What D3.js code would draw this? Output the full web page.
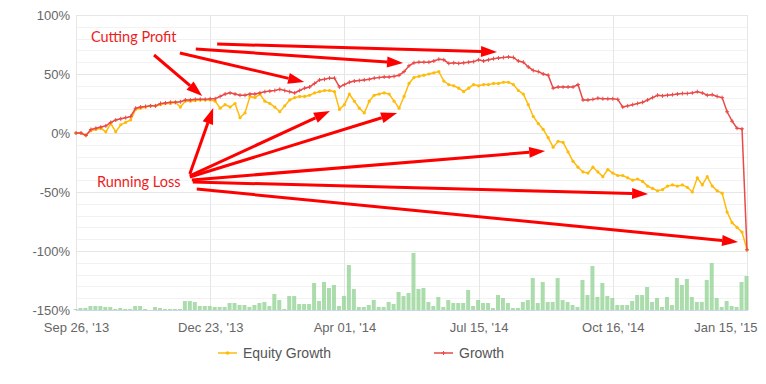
<!DOCTYPE html>
<html>
<head>
<meta charset="utf-8">
<script src="https://cdn.jsdelivr.net/npm/d3@7"></script>
<style>
  body { margin: 0; background: #fff; }
  text { font-family: Arial, "Liberation Sans", sans-serif; }
</style>
</head>
<body>
<div id="growth_plot"></div>
<script>
// tick labels for the x axis (index based)
var xTickIndex = [0, 27, 54, 81, 108, 135];
var xTickLabels = ["Sep 26, '13", "Dec 23, '13", "Apr 01, '14", "Jul 15, '14", "Oct 16, '14", "Jan 15, '15"];
var yTicks = [100, 50, 0, -50, -100, -150];

// Growth (%) - red
var growth = [0, 0, -2, 3, 4, 5, 6, 9, 11, 12, 13, 14, 21, 22, 22.5, 23, 23, 25, 25.5, 26,
  26, 26.5, 28, 28, 28.5, 28.5, 28.5, 29, 29, 31, 33, 34, 33, 32, 32, 33, 33, 34, 35, 35.5,
  36, 37, 36, 35, 34, 36, 38, 39, 42, 45, 45.5, 46.5, 46.5, 39, 41, 43, 44, 44.5, 45, 45.5,
  46.5, 47, 47.5, 47.5, 48, 49, 52, 57, 59.5, 60, 60, 60, 61, 62.5, 62, 59, 59.5, 59, 59.5, 60,
  60.5, 62, 61, 62, 63, 63.5, 64, 64.5, 64, 61, 60, 56, 53, 52, 50, 49, 38, 39, 39, 39,
  39, 41, 28, 28, 28.5, 29.5, 29, 29, 29, 28.5, 22, 23, 24, 25, 26, 28, 30, 32, 31.5, 32,
  32.5, 33, 33.5, 33.5, 34, 35, 34, 32, 32.5, 31, 30, 18, 10, 4, 3.5, -99];

// Equity Growth (%) - yellow
var equityGrowth = [0, 0, -2, 2, 3, 4, 1, 8, 1, 7, 9, 11, 20, 21, 22, 23, 23, 24, 25, 25,
  26, 22, 27, 27, 27.5, 28, 28, 28, 27, 21, 24, 22, 25, 13, 17, 31, 30, 33, 27, 25,
  22, 18, 23, 28, 30, 31, 31, 32, 34, 35, 36, 36, 35, 20, 24, 33, 27, 21, 17, 27,
  32, 33, 34, 33, 27, 21, 31, 42, 47, 48, 49, 50, 51, 52, 44, 41, 40, 38, 35, 38,
  41, 40, 41, 41, 42, 42, 43, 43, 41, 36, 33, 24, 14, 8, 3, -4, -12, -7, -8, -16,
  -24, -29, -33, -34, -29, -33, -37, -31, -34, -36, -36, -38, -40, -39, -41, -45, -47, -49, -48, -45,
  -44, -45, -44, -46, -50, -38, -44, -37, -45, -49, -51, -67, -76, -80, -84, -99];

// trading volume bars (lots)
var volume = [1, 2, 2, 4, 4, 4, 3, 3, 1, 2, 1, 1, 4, 4, 1, 0, 3, 2, 1, 1,
  1, 1, 9, 9, 8, 4, 4, 4, 3, 3, 3, 7, 7, 5, 5, 3, 5, 7, 8, 4,
  16, 10, 1, 14, 14, 6, 6, 6, 27, 9, 28, 22, 25, 4, 14, 45, 21, 3, 3, 5,
  10, 3, 3, 8, 6, 18, 14, 17, 57, 21, 22, 8, 4, 13, 3, 10, 7, 7, 7, 20,
  4, 10, 7, 7, 2, 15, 12, 7, 2, 2, 8, 10, 32, 7, 28, 8, 8, 32, 10, 8,
  5, 3, 30, 15, 44, 13, 27, 14, 12, 5, 5, 5, 9, 15, 15, 23, 8, 12, 3, 13,
  5, 32, 25, 31, 13, 8, 8, 30, 47, 12, 3, 9, 4, 3, 28, 34];

// annotations: [fromIndex, fromValue, toIndex, toValue]
var cuttingProfitArrows = [
  [15.7, 66.1, 25.4, 31.4],
  [20.9, 67.8, 45.9, 43.2],
  [24.1, 71.2, 65.8, 59.3],
  [28.4, 75.4, 84.7, 68.6]
];
var runningLossArrows = [
  [22.9, -34.7, 27.6, 21.2],
  [22.9, -36.4, 51.1, 18.6],
  [22.9, -37.3, 64.6, 16.9],
  [23.3, -39.8, 94.4, -15.3],
  [23.5, -41.5, 115.1, -51.7],
  [24.3, -47.5, 133.2, -92.4]
];

var margin = {top: 15, right: 18, bottom: 74, left: 76},
    width = 766 - margin.left - margin.right,
    height = 384 - margin.top - margin.bottom;

var svg = d3.select("#growth_plot")
  .append("svg")
    .attr("width", 766)
    .attr("height", 384);

var plot = svg.append("g")
    .attr("transform", "translate(" + margin.left + "," + margin.top + ")");

var x = d3.scaleLinear()
    .domain([0, growth.length - 1])
    .range([0, 671]);

var y = d3.scaleLinear()
    .domain([-150, 100])
    .range([height, 0]);

var yVol = d3.scaleLinear()
    .domain([0, 60])
    .range([height, height - 60]);

// minor grid every 10%
plot.append("g")
  .selectAll("line")
  .data(d3.range(-150, 101, 10).filter(function(d) { return d % 50 != 0; }))
  .enter()
  .append("line")
    .attr("x1", 0)
    .attr("x2", 672)
    .attr("y1", function(d) { return Math.round(y(d)) + 0.5; })
    .attr("y2", function(d) { return Math.round(y(d)) + 0.5; })
    .attr("stroke", "#f2f2f2");

// major grid
plot.append("g")
  .selectAll("line")
  .data(yTicks)
  .enter()
  .append("line")
    .attr("x1", 0)
    .attr("x2", 672)
    .attr("y1", function(d) { return Math.round(y(d)) + 0.5; })
    .attr("y2", function(d) { return Math.round(y(d)) + 0.5; })
    .attr("stroke", "#e6e6e6");

// vertical grid
plot.append("g")
  .selectAll("line")
  .data(xTickIndex)
  .enter()
  .append("line")
    .attr("x1", function(d) { return Math.round(x(d)) + 0.5; })
    .attr("x2", function(d) { return Math.round(x(d)) + 0.5; })
    .attr("y1", 0)
    .attr("y2", height)
    .attr("stroke", "#e6e6e6");

// y axis labels
var yAxis = plot.append("g")
    .call(d3.axisLeft(y).tickValues(yTicks).tickSize(0).tickPadding(6)
      .tickFormat(function(d) { return d + "%"; }));
yAxis.select(".domain").remove();
yAxis.selectAll("text")
    .style("font-size", "13px")
    .style("fill", "#666")
    .style("font-family", "Arial, 'Liberation Sans', sans-serif");

// x axis labels
var xAxis = plot.append("g")
    .attr("transform", "translate(0," + height + ")")
    .call(d3.axisBottom(x).tickValues(xTickIndex).tickSize(0).tickPadding(13)
      .tickFormat(function(d, i) { return xTickLabels[i]; }));
xAxis.select(".domain").remove();
xAxis.selectAll("text")
    .style("font-size", "13px")
    .style("fill", "#666")
    .style("font-family", "Arial, 'Liberation Sans', sans-serif");
// keep the last label inside the page, like the original
xAxis.selectAll("text")
    .filter(function(d, i) { return i == xTickIndex.length - 1; })
    .attr("text-anchor", "end")
    .attr("x", 10);

// volume bars
plot.append("g")
  .selectAll("rect")
  .data(volume)
  .enter()
  .append("rect")
    .attr("x", function(d, i) { return x(i) - 2.5; })
    .attr("width", 4)
    .attr("y", function(d) { return yVol(d); })
    .attr("height", function(d) { return height - yVol(d); })
    .attr("fill", "#8fd08f")
    .attr("opacity", 0.75);

// bottom axis line
plot.append("line")
    .attr("x1", 0).attr("x2", 672)
    .attr("y1", height + 0.5).attr("y2", height + 0.5)
    .attr("stroke", "#ccd6eb");

// equity growth line
var line = d3.line()
    .x(function(d, i) { return x(i); })
    .y(function(d) { return y(d); });

plot.append("path")
    .datum(equityGrowth)
    .attr("fill", "none")
    .attr("stroke", "#ffbb0a")
    .attr("stroke-width", 1.5)
    .attr("d", line);

plot.append("g")
  .selectAll("circle")
  .data(equityGrowth)
  .enter()
  .append("circle")
    .attr("cx", function(d, i) { return x(i); })
    .attr("cy", function(d) { return y(d); })
    .attr("r", 1.6)
    .attr("fill", "#ffbb0a");

// growth line
plot.append("path")
    .datum(growth)
    .attr("fill", "none")
    .attr("stroke", "#e84a48")
    .attr("stroke-width", 1.5)
    .attr("d", line);

plot.append("g")
  .selectAll("path")
  .data(growth)
  .enter()
  .append("path")
    .attr("d", function(d, i) {
      var cx = x(i), cy = y(d);
      return "M" + (cx - 2) + "," + cy + "H" + (cx + 2) + "M" + cx + "," + (cy - 2) + "V" + (cy + 2);
    })
    .attr("stroke", "#e84a48")
    .attr("stroke-width", 1);

// annotation arrows
function drawArrow(a) {
  var x1 = x(a[0]), y1 = y(a[1]), x2 = x(a[2]), y2 = y(a[3]);
  var ang = Math.atan2(y2 - y1, x2 - x1);
  var headLen = 16, headW = 5.5;
  var bx = x2 - headLen * Math.cos(ang), by = y2 - headLen * Math.sin(ang);
  plot.append("line")
      .attr("x1", x1).attr("y1", y1)
      .attr("x2", bx).attr("y2", by)
      .attr("stroke", "#ff0000")
      .attr("stroke-width", 3);
  plot.append("path")
      .attr("d", "M" + x2 + "," + y2 +
        "L" + (bx + headW * Math.sin(ang)) + "," + (by - headW * Math.cos(ang)) +
        "L" + (bx - headW * Math.sin(ang)) + "," + (by + headW * Math.cos(ang)) + "Z")
      .attr("fill", "#ff0000");
}
cuttingProfitArrows.forEach(drawArrow);
runningLossArrows.forEach(drawArrow);

plot.append("text")
    .attr("x", x(3.0))
    .attr("y", y(77.1))
    .text("Cutting Profit")
    .style("font-family", "Lato, 'Open Sans', sans-serif")
    .style("font-size", "14.5px")
    .style("fill", "#ee1c1c");

plot.append("text")
    .attr("x", x(4.2))
    .attr("y", y(-45.8))
    .text("Running Loss")
    .style("font-family", "Lato, 'Open Sans', sans-serif")
    .style("font-size", "14.5px")
    .style("fill", "#ee1c1c");

// legend
var legend = svg.append("g")
    .attr("transform", "translate(218,353)");

legend.append("line")
    .attr("x1", 0).attr("x2", 19).attr("y1", 0).attr("y2", 0)
    .attr("stroke", "#ffbb0a").attr("stroke-width", 1.5);
legend.append("circle")
    .attr("cx", 9.5).attr("cy", 0).attr("r", 1.8)
    .attr("fill", "#ffbb0a");
legend.append("text")
    .attr("x", 25).attr("y", 5)
    .text("Equity Growth")
    .style("font-size", "14px")
    .style("fill", "#555");

legend.append("line")
    .attr("x1", 216).attr("x2", 235).attr("y1", 0).attr("y2", 0)
    .attr("stroke", "#e84a48").attr("stroke-width", 1.5);
legend.append("path")
    .attr("d", "M223.5,0H227.5M225.5,-2V2")
    .attr("stroke", "#e84a48");
legend.append("text")
    .attr("x", 241).attr("y", 5)
    .text("Growth")
    .style("font-size", "14px")
    .style("fill", "#555");
</script>
</body>
</html>
